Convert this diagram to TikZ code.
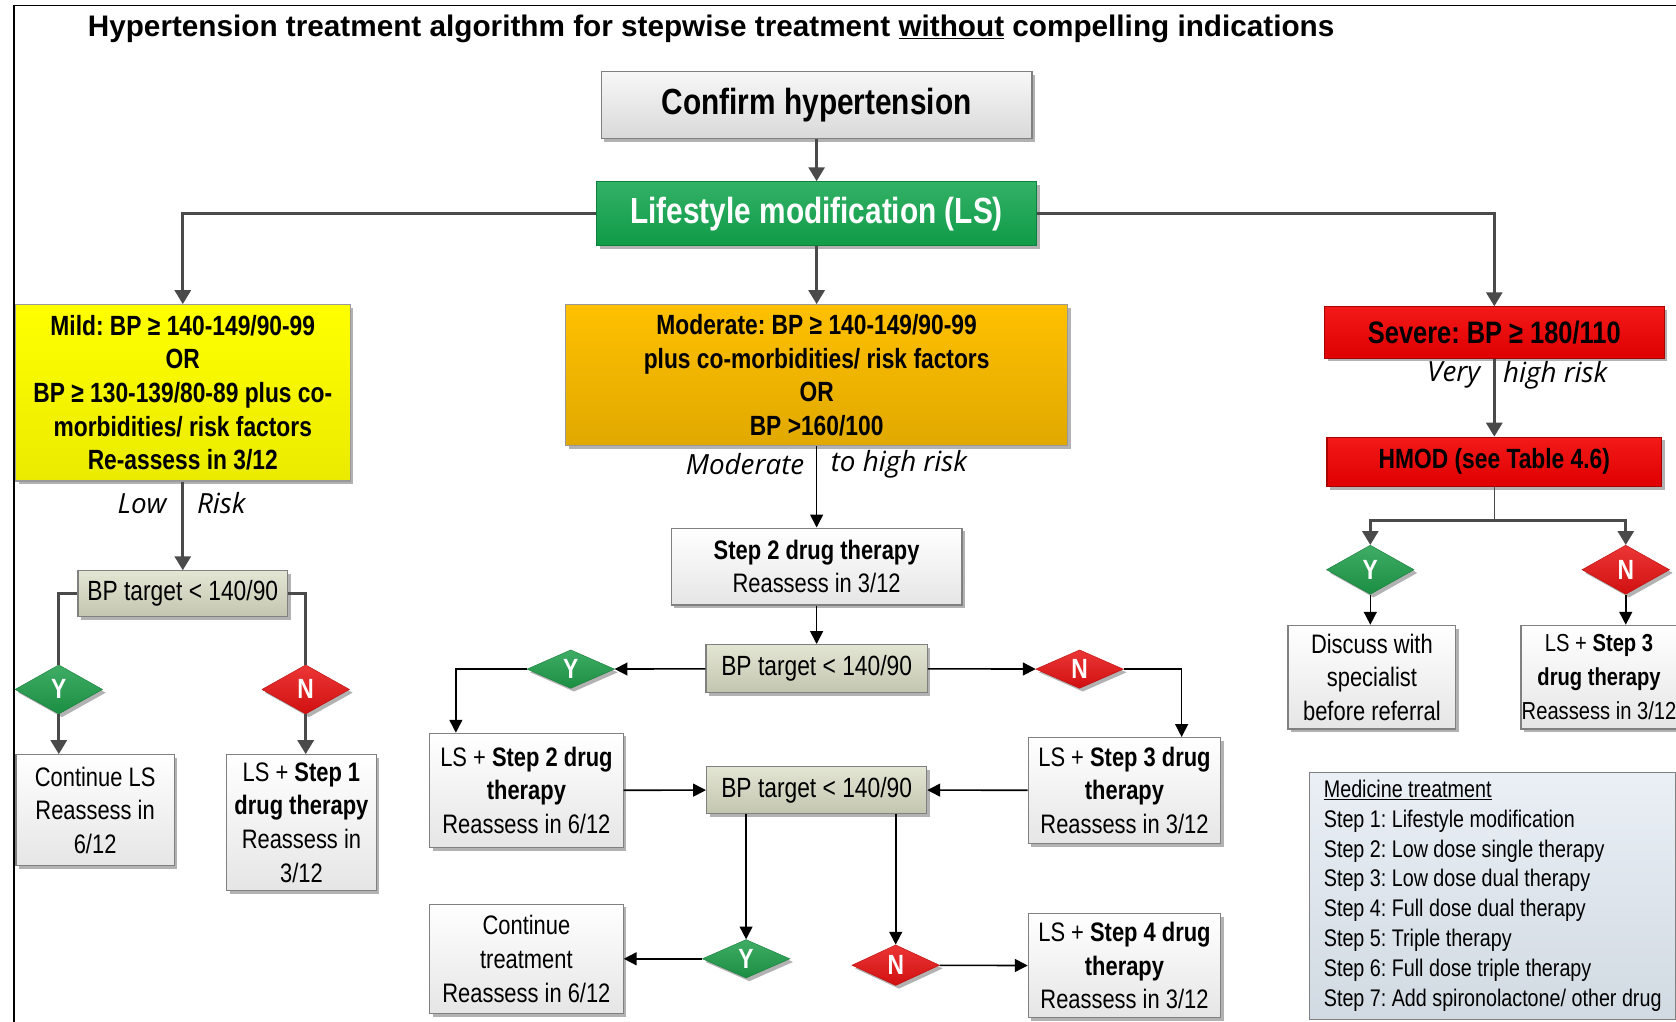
\documentclass[tikz,border=0pt]{standalone}
\usepackage{fontspec}
\setmainfont{Liberation Sans}
\newfontfamily\narrowfont{Liberation Sans}[FakeStretch=0.82]
\newfontfamily\riskfont{Open Sans}
\usetikzlibrary{shapes.geometric,arrows.meta,shadows}
\frenchspacing

\definecolor{arrowgray}{HTML}{4A4A4A}
\definecolor{lsgreen}{HTML}{0FA34B}
\definecolor{diagreen}{HTML}{1E9E4A}
\definecolor{diared}{HTML}{E81212}
\definecolor{mildyellow}{HTML}{FFFF00}
\definecolor{modamber}{HTML}{FFC000}
\definecolor{sevred}{HTML}{F20000}
\definecolor{targetfill}{HTML}{D8DBC2}
\definecolor{legendfill}{HTML}{DCE5EE}

\tikzset{
	shade/.style={drop shadow={shadow xshift=3pt,shadow yshift=-3pt,opacity=0.3,fill=black}},
	box/.style={shade, draw=black!50, line width=1pt, top color=white, bottom color=black!10, inner sep=0pt, align=center, font=\narrowfont\fontsize{25}{31.5}\selectfont},
	bigbox/.style={box, font=\narrowfont\bfseries\fontsize{34}{40}\selectfont},
	riskbox/.style={box, font=\narrowfont\bfseries\fontsize{26}{31.5}\selectfont},
	targetbox/.style={box, top color=targetfill!70!white, bottom color=targetfill!90!black, font=\narrowfont\fontsize{26}{31}\selectfont},
	dia/.style={shade, diamond, aspect=1.8, inner sep=0pt, minimum width=82pt, minimum height=46pt, text=white, font=\narrowfont\bfseries\fontsize{26}{26}\selectfont},
	yesdia/.style={dia, draw=diagreen!80!black, top color=diagreen!85!white, bottom color=diagreen!90!black},
	nodia/.style={dia, draw=diared!80!black, top color=diared!85!white, bottom color=diared!90!black},
	risk/.style={font=\riskfont\itshape\fontsize{26}{30}\selectfont, inner sep=0pt},
	gline/.style={draw=arrowgray, line width=2.5pt},
	garrow/.style={gline, -{Triangle[length=13pt,width=15pt]}},
	thinline/.style={draw=arrowgray, line width=1.2pt},
	bline/.style={draw=black, line width=1.5pt},
	barrow/.style={bline, -{Triangle[length=12pt,width=12pt]}}
}

\begin{document}
\begin{tikzpicture}[x=1pt,y=-1pt]
			\useasboundingbox (0,0) rectangle (1568,956);
			\fill[white] (0,0) rectangle (1568,956);
			\draw[line width=1.5pt] (13,960) -- (13,5) -- (1575,5);
			
			\node	(title) at (82,27) [anchor=west, inner sep=0pt, font=\bfseries\fontsize{27.8}{30}\selectfont] {Hypertension treatment algorithm for stepwise treatment \underline{without} compelling indications};
			
			\node	(confirm) at (764,98.5) [bigbox, minimum width=403pt, minimum height=63pt, top color=black!3, bottom color=black!15] {Confirm hypertension};
			\node	(ls) at (764,200) [bigbox, minimum width=412pt, minimum height=60pt, draw=lsgreen!80!black, top color=lsgreen!85!white, bottom color=lsgreen!95!black, text=white] {Lifestyle modification (LS)};
			
			\node	(mild) at (171,367.5) [riskbox, minimum width=313pt, minimum height=165pt, draw=black!40, top color=mildyellow, bottom color=mildyellow!92!black] {Mild: BP ≥ 140-149/90-99\\OR\\BP ≥ 130-139/80-89 plus co-\\morbidities/ risk factors\\Re-assess in 3/12};
			\node	(moderate) at (764,351) [riskbox, minimum width=470pt, minimum height=132pt, draw=black!40, top color=modamber, bottom color=modamber!88!black] {Moderate: BP ≥ 140-149/90-99\\plus co-morbidities/ risk factors\\OR\\BP >160/100};
			\node	(severe) at (1398,311) [riskbox, minimum width=318pt, minimum height=48pt, draw=sevred!70!black, top color=sevred!90!white, bottom color=sevred!92!black, font=\narrowfont\bfseries\fontsize{29}{32}\selectfont] {Severe: BP ≥ 180/110};
			\node	(hmod) at (1398,432) [riskbox, minimum width=313pt, minimum height=46pt, draw=sevred!70!black, top color=sevred!90!white, bottom color=sevred!92!black] {HMOD (see Table 4.6)};
			
			\node	(lowlbl) at (133,471) [risk] {Low};
			\node	(risklbl) at (207,471) [risk] {Risk};
			\node	(modlbl) at (697,434) [risk] {Moderate};
			\node	(highlbl) at (841,434) [risk] {to high risk};
			\node	(verylbl) at (1360,351) [risk] {Very};
			\node	(vhighlbl) at (1455,351) [risk] {high risk};
			
			\node	(bpt1) at (171,555.5) [targetbox, minimum width=196pt, minimum height=43pt] {BP target < 140/90};
			\node	(yes1) at (55,645) [yesdia] {Y};
			\node	(no1) at (286,645) [nodia] {N};
			\node	(cont1) at (89,758) [box, minimum width=148pt, minimum height=104pt] {Continue LS\\Reassess in\\6/12};
			\node	(step1) at (282,769.5) [box, minimum width=140pt, minimum height=127pt] {LS + \textbf{Step 1}\\\textbf{drug therapy}\\Reassess in\\3/12};
			
			\node	(step2) at (764,530) [box, minimum width=272pt, minimum height=72pt] {\textbf{Step 2 drug therapy}\\Reassess in 3/12};
			\node	(bpt2) at (764,625.5) [targetbox, minimum width=207pt, minimum height=45pt] {BP target < 140/90};
			\node	(yes2) at (534,626) [yesdia, minimum height=36pt] {Y};
			\node	(no2) at (1010,626) [nodia, minimum height=36pt] {N};
			\node	(ls2) at (492.5,739.5) [box, minimum width=181pt, minimum height=107pt] {LS + \textbf{Step 2 drug}\\\textbf{therapy}\\Reassess in 6/12};
			\node	(ls3) at (1052,739.5) [box, minimum width=180pt, minimum height=99pt] {LS + \textbf{Step 3 drug}\\\textbf{therapy}\\Reassess in 3/12};
			\node	(bpt3) at (764,739) [targetbox, minimum width=206pt, minimum height=44pt] {BP target < 140/90};
			\node	(yes3) at (698,897) [yesdia, minimum height=36pt] {Y};
			\node	(no3) at (838,903) [nodia, minimum height=38pt] {N};
			\node	(cont2) at (492.5,897) [box, minimum width=181pt, minimum height=102pt] {Continue\\treatment\\Reassess in 6/12};
			\node	(ls4) at (1052,903.5) [box, minimum width=180pt, minimum height=97pt] {LS + \textbf{Step 4 drug}\\\textbf{therapy}\\Reassess in 3/12};
			
			\coordinate (hsplit) at (1398,487);
			\node	(yes4) at (1282,533) [yesdia] {Y};
			\node	(no4) at (1521,533) [nodia] {N};
			\node	(disc) at (1283.5,633.5) [box, minimum width=157pt, minimum height=97pt] {Discuss with\\specialist\\before referral};
			\node	(ls5) at (1496,633.5) [box, minimum width=146pt, minimum height=97pt, font=\narrowfont\fontsize{23}{31.5}\selectfont] {LS + \textbf{Step 3}\\\textbf{drug therapy}\\Reassess in 3/12};
			
			\node	(legend) at (1225,722) [anchor=north west, draw=black!50, line width=1pt, top color=legendfill!60!white, bottom color=legendfill!95!black, minimum width=342pt, minimum height=231pt, inner xsep=6pt, inner ysep=6pt, align=left, font=\narrowfont\fontsize{22.5}{28}\selectfont] {\underline{Medicine treatment}\\Step 1: Lifestyle modification\\Step 2: Low dose single therapy\\Step 3: Low dose dual therapy\\Step 4: Full dose dual therapy\\Step 5: Triple therapy\\Step 6: Full dose triple therapy\\Step 7: Add spironolactone/ other drug};
			
			\draw 
			(confirm) edge[garrow] (ls)
			(ls) edge[garrow] (moderate)
			(mild) edge[garrow] (bpt1)
			(severe) edge[garrow] (hmod)
			(moderate) edge[barrow] (step2)
			(step2) edge[barrow] (bpt2)
			(bpt2) edge[barrow] (yes2)
			(bpt2) edge[barrow] (no2)
			(ls2) edge[barrow] (bpt3)
			(ls3) edge[barrow] (bpt3)
			(yes3) edge[barrow] (cont2)
			(no3) edge[barrow] (ls4)
			;
			
			\draw[garrow] (ls.west) -| (mild.north);
			\draw[garrow] (ls.east) -| (severe.north);
			\draw[gline] (bpt1.west) -| (yes1.north);
			\draw[gline] (bpt1.east) -| (no1.north);
			\draw[garrow] (yes1.south) -- (yes1.south |- cont1.north);
			\draw[garrow] (no1.south) -- (no1.south |- step1.north);
			\draw[thinline] (hmod.south) -- (hsplit);
			\draw[garrow] (hsplit) -| (yes4.north);
			\draw[garrow] (hsplit) -| (no4.north);
			\draw[barrow] (yes4.south) -- (yes4.south |- disc.north);
			\draw[barrow] (no4.south) -- (no4.south |- ls5.north);
			\draw[barrow] (yes2.west) -| ([xshift=25pt]ls2.north west);
			\draw[barrow] (no2.east) -| ([xshift=-37pt]ls3.north east);
			\draw[barrow] (bpt3.south -| yes3.north) -- (yes3.north);
			\draw[barrow] (bpt3.south -| no3.north) -- (no3.north);
		\end{tikzpicture}
\end{document}
